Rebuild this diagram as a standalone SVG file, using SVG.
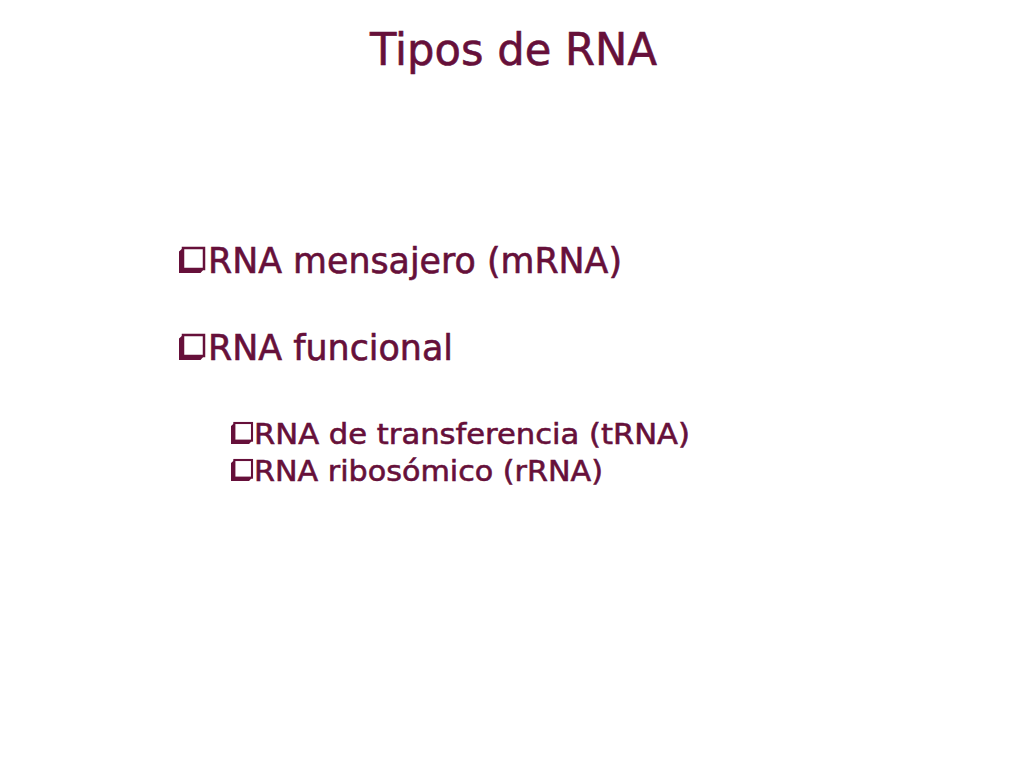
<svg xmlns="http://www.w3.org/2000/svg" width="1024" height="768" viewBox="0 0 1024 768">
  <style>
    text { font-family: "DejaVu Sans", "Noto Sans", sans-serif; fill: #66103a; stroke: #66103a; stroke-width: 0.6px; }
    .title { font-size: 44px; }
    .l1 { font-size: 35px; }
    .l2 { font-size: 29px; }
    .box { fill: #ffffff; stroke: #66103a; }
    .shadow { fill: #66103a; }
  </style>
  <defs>
    <g id="bullet">
      <polygon class="shadow" points="0,0.14 0.16,0 0.16,0.84 1,0.84 0.86,1 0,1"/>
      <rect class="box" x="0.16" y="0" width="0.84" height="0.84" stroke-width="0.1"/>
    </g>
  </defs>
  <rect width="1024" height="768" fill="#ffffff"/>
  <g id="title">
    <text class="title" x="370" y="65" textLength="287" lengthAdjust="spacingAndGlyphs">Tipos de RNA</text>
  </g>
  <g id="item-mrna">
    <use href="#bullet" transform="translate(179,248) scale(25)"/>
    <text class="l1" x="208" y="273" textLength="414" lengthAdjust="spacingAndGlyphs">RNA mensajero (mRNA)</text>
  </g>
  <g id="item-funcional">
    <use href="#bullet" transform="translate(179,335) scale(25)"/>
    <text class="l1" x="208" y="360" textLength="245" lengthAdjust="spacingAndGlyphs">RNA funcional</text>
  </g>
  <g id="item-trna">
    <use href="#bullet" transform="translate(231,423) scale(21)"/>
    <text class="l2" x="254" y="444" textLength="436" lengthAdjust="spacingAndGlyphs">RNA de transferencia (tRNA)</text>
  </g>
  <g id="item-rrna">
    <use href="#bullet" transform="translate(231,460) scale(21)"/>
    <text class="l2" x="254" y="481" textLength="349" lengthAdjust="spacingAndGlyphs">RNA ribosómico (rRNA)</text>
  </g>
</svg>
